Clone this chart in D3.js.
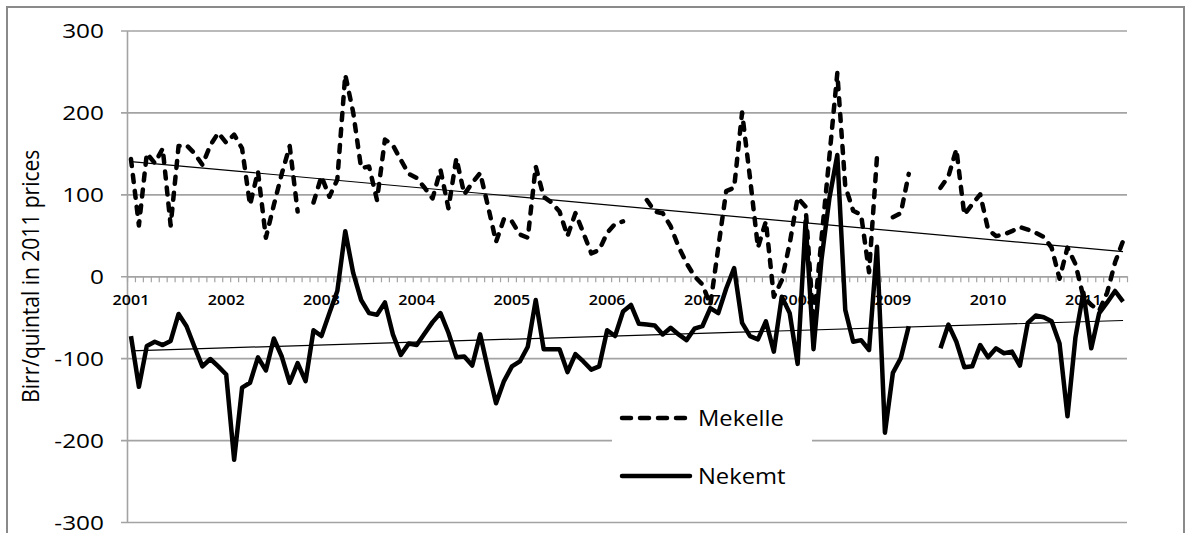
<!DOCTYPE html>
<html lang="en">
<head>
<meta charset="UTF-8">
<title>Birr/quintal in 2011 prices</title>
<script src="https://cdnjs.cloudflare.com/ajax/libs/d3/7.8.5/d3.min.js"></script>
<style>
body { margin: 0; background: #fff; }
text { font-family: "Open Sans", "Noto Sans", sans-serif; fill: #000; }
</style>
</head>
<body>
<script>
// monthly values, Jan 2001 .. Jun 2011 (null = gap)
var mekelle = [
  143, 62, 150, 138, 156, 62, 159, 160, 150, 136, 160, 175,
  163, 173, 156, 87, 128, 47, 87, 125, 159, 79, null, 90,
  122, 97, 118, 246, 200, 132, 134, 93, 167, 160, 142, 125,
  120, 108, 95, 130, 83, 144, 100, 114, 126, 85, 42, 70,
  67, 51, 47, 134, 97, 90, 79, 49, 77, 53, 28, 32,
  53, 64, 67, null, null, 93, 79, 77, 61, 36, 16, 0,
  -10, -35, 35, 104, 108, 200, 120, 35, 67, -25, -5, 40,
  96, 85, -57, 45, 146, 248, 110, 80, 75, 5, 146, null,
  72, 77, 125, null, null, null, 108, 122, 155, 75, 88, 100,
  57, 49, 51, 55, 60, 57, 53, 48, 35, -3, 35, 15,
  -25, -35, -42, -20, 17, 43
];
var nekemt = [
  -73, -135, -85, -80, -84, -79, -46, -61, -86, -110, -101, -110,
  -120, -224, -136, -130, -99, -115, -76, -98, -130, -106, -128, -66,
  -73, -45, -18, 55, 4, -29, -45, -47, -32, -71, -96, -82,
  -84, -70, -56, -45, -69, -99, -98, -109, -71, -114, -155, -128,
  -110, -104, -86, -29, -89, -89, -89, -117, -95, -104, -114, -110,
  -66, -73, -43, -35, -58, -59, -60, -71, -63, -71, -78, -64,
  -61, -39, -45, -15, 10, -57, -73, -77, -55, -92, -25, -45,
  -107, 67, -89, 20, 95, 148, -41, -80, -78, -90, 36, -191,
  -118, -100, -61, null, null, null, -88, -59, -80, -111, -110, -84,
  -99, -88, -94, -92, -109, -57, -48, -50, -55, -82, -171, -75,
  -20, -88, -45, -32, -18, -31
];
// linear trend values at first and last month
var mekelleTrend = [140, 30];
var nekemtTrend = [-91, -54];
var yearLabels = ["2001", "2002", "2003", "2004", "2005", "2006", "2007", "2008", "2009", "2010", "2011"];
var seriesNames = ["Mekelle", "Nekemt"];

var width = 1191, height = 533;
var plotLeft = 127, plotRight = 1127, plotTop = 30.5, plotBottom = 522;
var n = mekelle.length;

var svg = d3.select("body").append("svg")
    .attr("width", width)
    .attr("height", height);

svg.append("rect")
    .attr("x", 7).attr("y", 7)
    .attr("width", 1177).attr("height", 560)
    .attr("fill", "#fff")
    .attr("stroke", "#8a8a8a")
    .attr("stroke-width", 2);

var x = d3.scaleLinear().domain([0, n]).range([plotLeft, plotRight]);
var y = d3.scaleLinear().domain([-300, 300]).range([plotBottom, plotTop]);

// gridlines
svg.append("g")
    .attr("transform", "translate(" + plotLeft + ",0)")
    .call(d3.axisLeft(y).ticks(6).tickSize(6).tickFormat(""))
    .call(function(g) {
        g.select(".domain").remove();
        g.selectAll(".tick line")
            .attr("x1", -6)
            .attr("x2", plotRight - plotLeft)
            .attr("stroke", "#a3a3a3")
            .attr("stroke-width", 1.6);
    });

// y axis
svg.append("g")
    .attr("transform", "translate(" + plotLeft + ",0)")
    .call(d3.axisLeft(y).ticks(6).tickSize(0).tickSizeOuter(0).tickFormat(function(d) { return String(d); }))
    .call(function(g) {
        g.select(".domain").attr("stroke", "#a3a3a3").attr("stroke-width", 1.6);
        g.selectAll(".tick text")
            .attr("x", 0)
            .attr("dy", "0.35em")
            .attr("transform", "translate(-23,0) scale(1.22,1)")
            .style("font-size", "20px")
            .style("font-family", "\"Open Sans\", sans-serif")
            .attr("fill", "#000");
    });

// x axis along zero with monthly ticks
svg.append("g")
    .attr("transform", "translate(0," + y(0) + ")")
    .call(d3.axisBottom(x).tickValues(d3.range(0, n + 1)).tickSize(6).tickSizeOuter(0).tickFormat(""))
    .call(function(g) {
        g.select(".domain").attr("stroke", "#a3a3a3").attr("stroke-width", 1.6);
        g.selectAll(".tick line").attr("stroke", "#a3a3a3").attr("stroke-width", 1.2);
    });

svg.append("g").selectAll("text")
    .data(yearLabels)
    .enter()
    .append("text")
    .attr("transform", function(d, i) {
        return "translate(" + x(i * 12 + 0.5) + "," + (y(0) + 29) + ") scale(1.15,1)";
    })
    .attr("text-anchor", "middle")
    .style("font-size", "14px")
    .style("font-weight", 600)
    .text(function(d) { return d; });

// y title
svg.append("text")
    .attr("transform", "translate(39," + ((plotTop + plotBottom) / 2) + ") rotate(-90) scale(1,1.15)")
    .attr("text-anchor", "middle")
    .style("font-size", "21px")
    .text("Birr/quintal in 2011 prices");

var line = d3.line()
    .defined(function(d) { return d != null; })
    .x(function(d, i) { return x(i + 0.5); })
    .y(function(d) { return y(d); });

svg.append("path")
    .datum(mekelle)
    .attr("fill", "none")
    .attr("stroke", "#000")
    .attr("stroke-width", 4.5)
    .attr("stroke-linecap", "round")
    .attr("stroke-linejoin", "round")
    .attr("stroke-dasharray", "7,9")
    .attr("d", line);

svg.append("path")
    .datum(nekemt)
    .attr("fill", "none")
    .attr("stroke", "#000")
    .attr("stroke-width", 4.5)
    .attr("stroke-linejoin", "round")
    .attr("d", line);

// trend lines
[mekelleTrend, nekemtTrend].forEach(function(t) {
    svg.append("line")
        .attr("x1", x(0.5)).attr("y1", y(t[0]))
        .attr("x2", x(n - 0.5)).attr("y2", y(t[1]))
        .attr("stroke", "#000")
        .attr("stroke-width", 1.2);
});

// legend
var legend = svg.append("g");
legend.append("rect")
    .attr("x", 612).attr("y", 398)
    .attr("width", 200).attr("height", 108)
    .attr("fill", "#fff");

var legendY = [418, 476];
seriesNames.forEach(function(name, i) {
    legend.append("line")
        .attr("x1", 622).attr("x2", 690)
        .attr("y1", legendY[i]).attr("y2", legendY[i])
        .attr("stroke", "#000")
        .attr("stroke-width", 4.5)
        .attr("stroke-linecap", "round")
        .attr("stroke-dasharray", i == 0 ? "9,9" : null);
    legend.append("text")
        .attr("transform", "translate(698," + legendY[i] + ") scale(1.08,1)")
        .attr("dy", "0.35em")
        .style("font-size", "22px")
        .text(name);
});
</script>
</body>
</html>
